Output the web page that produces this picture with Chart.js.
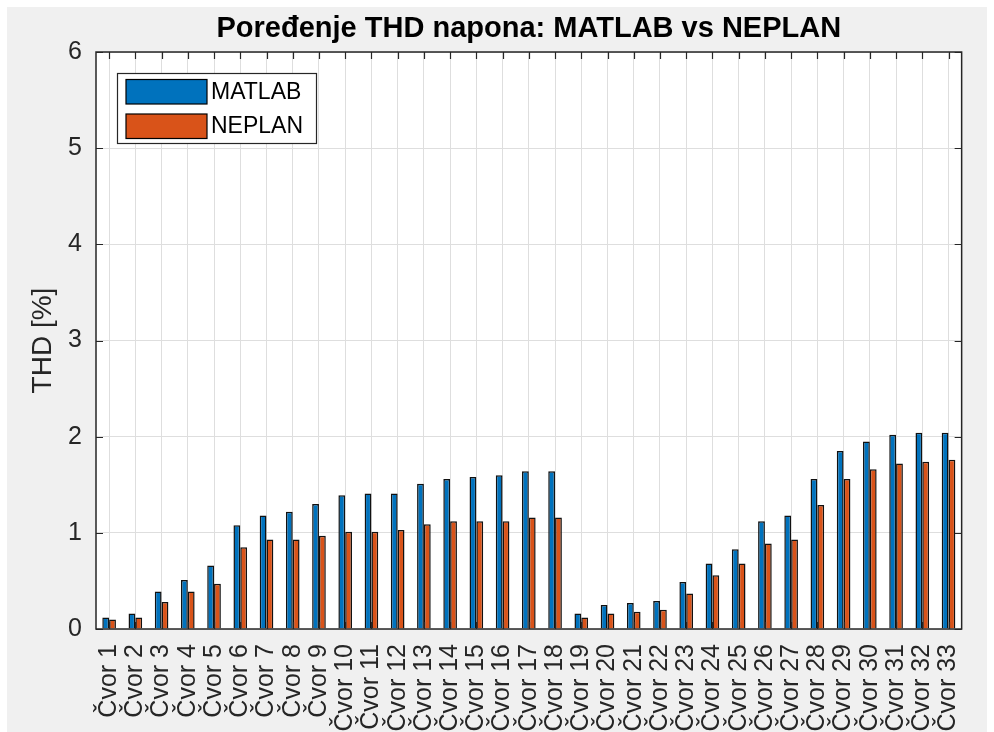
<!DOCTYPE html>
<html>
<head>
<meta charset="utf-8">
<script src="https://cdn.jsdelivr.net/npm/chart.js@4.4.1/dist/chart.umd.min.js"></script>
<style>
  html, body { margin: 0; padding: 0; background: #ffffff; }
  #wrap { width: 994px; height: 732px; }
</style>
</head>
<body>
<div id="wrap"><canvas id="c" width="994" height="732"></canvas></div>
<script>
const categories = ["Čvor 1","Čvor 2","Čvor 3","Čvor 4","Čvor 5","Čvor 6","Čvor 7","Čvor 8","Čvor 9","Čvor 10","Čvor 11","Čvor 12","Čvor 13","Čvor 14","Čvor 15","Čvor 16","Čvor 17","Čvor 18","Čvor 19","Čvor 20","Čvor 21","Čvor 22","Čvor 23","Čvor 24","Čvor 25","Čvor 26","Čvor 27","Čvor 28","Čvor 29","Čvor 30","Čvor 31","Čvor 32","Čvor 33"];
const matlabValues = [0.12,0.16,0.39,0.51,0.66,1.08,1.18,1.22,1.30,1.39,1.41,1.41,1.51,1.56,1.58,1.60,1.64,1.64,0.16,0.25,0.27,0.29,0.49,0.68,0.83,1.12,1.18,1.56,1.85,1.95,2.02,2.04,2.04];
const neplanValues = [0.10,0.12,0.28,0.39,0.47,0.85,0.93,0.93,0.97,1.01,1.01,1.03,1.09,1.12,1.12,1.12,1.16,1.16,0.12,0.16,0.18,0.20,0.37,0.56,0.68,0.89,0.93,1.29,1.56,1.66,1.72,1.74,1.76];
const seriesNames = ["MATLAB", "NEPLAN"];
const chartTitle = "Poređenje THD napona: MATLAB vs NEPLAN";
const yAxisTitle = "THD [%]";

const FONT = "'Liberation Sans', Arial, Helvetica, sans-serif";
const AX = "#262626";

const bgPlugin = {
  id: 'bg',
  beforeDraw(chart) {
    const ctx = chart.ctx;
    ctx.save();
    ctx.fillStyle = '#ffffff';
    ctx.fillRect(0, 0, chart.width, chart.height);
    ctx.fillStyle = '#f0f0f0';
    ctx.fillRect(7, 7, 980, chart.height - 7);
    const a = chart.chartArea;
    ctx.fillStyle = '#ffffff';
    ctx.fillRect(a.left, a.top, a.right - a.left, a.bottom - a.top);
    ctx.restore();
  }
};

const decorPlugin = {
  id: 'decor',
  afterDraw(chart) {
    const ctx = chart.ctx;
    const a = chart.chartArea;
    const xs = chart.scales.x, ys = chart.scales.y;
    ctx.save();
    // inward ticks
    ctx.strokeStyle = AX;
    ctx.lineWidth = 1.2;
    const tl = 7;
    ctx.beginPath();
    for (let i = 0; i < categories.length; i++) {
      const px = Math.round(xs.getPixelForValue(i)) + 0.5;
      ctx.moveTo(px, a.top); ctx.lineTo(px, a.top + tl);
      ctx.moveTo(px, a.bottom); ctx.lineTo(px, a.bottom - tl);
    }
    ys.ticks.forEach(t => {
      const py = Math.round(ys.getPixelForValue(t.value)) + 0.5;
      ctx.moveTo(a.left, py); ctx.lineTo(a.left + tl, py);
      ctx.moveTo(a.right, py); ctx.lineTo(a.right - tl, py);
    });
    ctx.stroke();
    // box
    ctx.lineWidth = 1.5;
    ctx.strokeRect(a.left, a.top, a.right - a.left, a.bottom - a.top);
    // title
    ctx.fillStyle = '#000000';
    ctx.font = "bold 29px " + FONT;
    ctx.textAlign = 'center';
    ctx.textBaseline = 'alphabetic';
    ctx.fillText(chartTitle, (a.left + a.right) / 2, 36.5);
    // legend
    const lx = 117.5, ly = 73.5, lw = 199, lh = 70;
    ctx.fillStyle = '#ffffff';
    ctx.fillRect(lx, ly, lw, lh);
    ctx.lineWidth = 1.2;
    ctx.strokeStyle = AX;
    ctx.strokeRect(lx, ly, lw, lh);
    chart.data.datasets.forEach((ds, i) => {
      const sy = 79.5 + i * 34.5;
      ctx.fillStyle = ds.backgroundColor;
      ctx.fillRect(126, sy, 81, 24.5);
      ctx.strokeStyle = '#000000';
      ctx.lineWidth = 1.2;
      ctx.strokeRect(126, sy, 81, 24.5);
      ctx.fillStyle = '#000000';
      ctx.font = "23px " + FONT;
      ctx.textAlign = 'left';
      ctx.textBaseline = 'middle';
      ctx.fillText(ds.label, 211, sy + 13);
    });
    ctx.restore();
  }
};

new Chart(document.getElementById('c'), {
  type: 'bar',
  data: {
    labels: categories,
    datasets: [
      { label: seriesNames[0], data: matlabValues, backgroundColor: '#0072BD', borderColor: '#111111', borderWidth: 1.5 },
      { label: seriesNames[1], data: neplanValues, backgroundColor: '#D95319', borderColor: '#111111', borderWidth: 1.5 }
    ]
  },
  options: {
    responsive: false,
    animation: false,
    devicePixelRatio: 1,
    layout: { padding: { left: 0, top: 52, right: 31, bottom: 0 } },
    datasets: { bar: { categoryPercentage: 0.52, barPercentage: 1.0 } },
    plugins: {
      legend: { display: false },
      title: { display: false },
      tooltip: { enabled: false }
    },
    scales: {
      x: {
        offset: true,
        grid: { offset: false, color: '#dedede', lineWidth: 1, drawTicks: false },
        border: { display: false },
        ticks: {
          autoSkip: false, maxRotation: 90, minRotation: 90, padding: 15,
          color: AX, font: { family: FONT, size: 25 }
        },
        afterFit(scale) { scale.height = 103; }
      },
      y: {
        min: 0, max: 6,
        grid: { color: '#dedede', lineWidth: 1, drawTicks: false },
        border: { display: false },
        ticks: { stepSize: 1, padding: 14, color: AX, font: { family: FONT, size: 25 } },
        title: { display: true, text: yAxisTitle, color: AX, font: { family: FONT, size: 28 }, padding: { top: 26, bottom: 0 } },
        afterFit(scale) { scale.width = 96; }
      }
    }
  },
  plugins: [bgPlugin, decorPlugin]
});
</script>
</body>
</html>
